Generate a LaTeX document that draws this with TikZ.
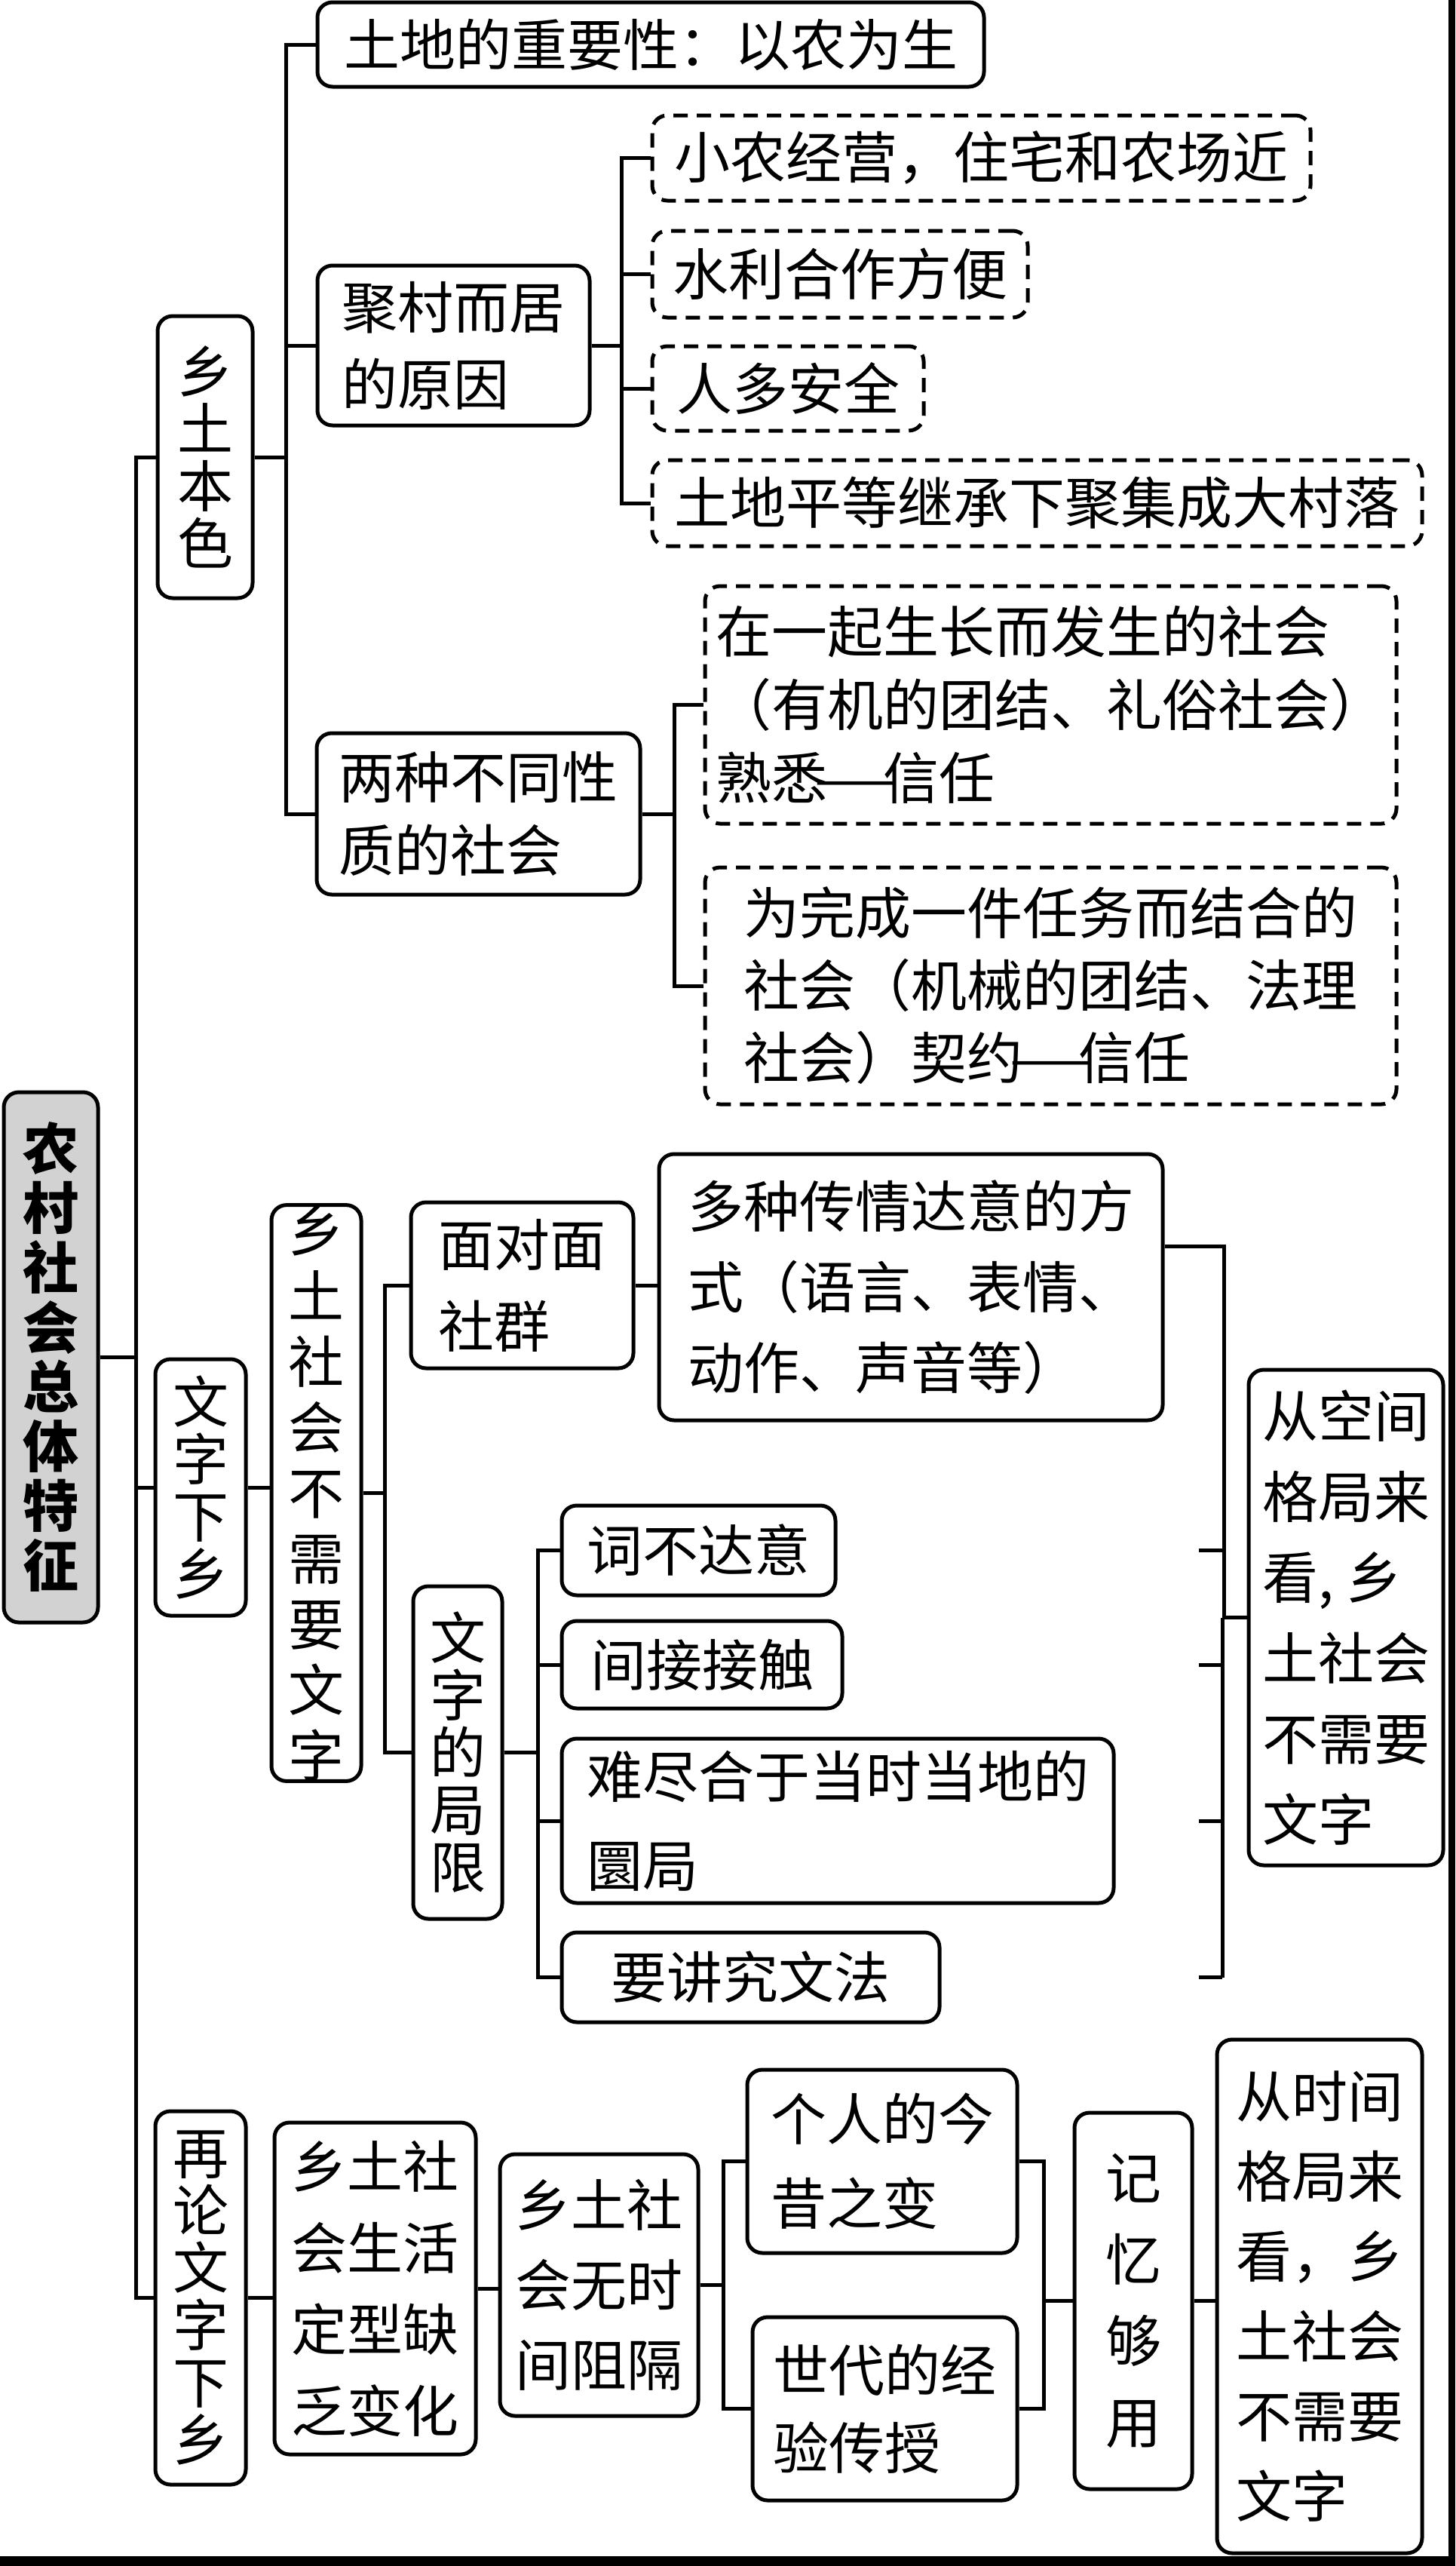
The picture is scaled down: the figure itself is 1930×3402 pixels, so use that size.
\documentclass[tikz,border=0pt]{standalone}
\usepackage{fontspec}
\usepackage{graphicx}
\newfontfamily\cjk{Noto Sans CJK SC}
\usepackage{tikz}
\newcommand\longdash{\makebox[1em][c]{\scalebox{1.7}[1]{—}}}

\begin{document}
\begin{tikzpicture}[x=1pt, y=-1pt, line width=5pt,
    box/.style={draw, rounded corners=20pt, inner sep=0pt, align=left,
      font=\cjk\fontsize{74}{106}\selectfont},
    sz/.style 2 args={minimum width=#1pt, minimum height=#2pt},
    lsp/.style={font=\cjk\fontsize{74}{#1}\selectfont},
    dbox/.style={box, dash pattern=on 19pt off 12pt},
    stack/.style={box, align=center, font=\cjk\fontsize{74}{76}\selectfont},
    root/.style={stack, fill=gray!35,
      font=\cjk\bfseries\fontsize{74}{79}\selectfont},
    elbow/.style={to path={-- ++(#1,0) |- (\tikztotarget)}}]
  \useasboundingbox (0,0) rectangle (1930,3402);

  % root
  \node[root, sz={125}{703}] (root) at (67.5,1799.5) {农\\村\\社\\会\\总\\体\\特\\征};

  % 乡土本色
  \node[stack, sz={126}{374}] (xt) at (272,606) {乡\\土\\本\\色};
  \node[box, sz={884}{112}] (td) at (863,59) {土地的重要性：以农为生};
  \node[box, sz={361}{212}, lsp=102] (jc) at (601.5,458) {聚村而居\\的原因};
  \node[dbox, sz={873}{113}] (jc1) at (1301.5,209.5) {小农经营，住宅和农场近};
  \node[dbox, sz={498}{115}] (jc2) at (1114,363.5) {水利合作方便};
  \node[dbox, sz={360}{112}] (jc3) at (1045,515) {人多安全};
  \node[dbox, sz={1021}{114}] (jc4) at (1375.5,667) {土地平等继承下聚集成大村落};
  \node[box, sz={429}{214}, lsp=97] (lz) at (634.5,1079) {两种不同性\\质的社会};
  \node[dbox, sz={917}{315}, lsp=97] (lz1) at (1393.5,934.5)
    {在一起生长而发生的社会\\（有机的团结、礼俗社会）\\熟悉\longdash 信任};
  \node[dbox, sz={917}{314}, lsp=96] (lz2) at (1393.5,1307)
    {为完成一件任务而结合的\\社会（机械的团结、法理\\社会）契约\longdash 信任};

  % 文字下乡
  \node[stack, sz={120}{340}] (wz) at (266,1972) {文\\字\\下\\乡};
  \node[stack, sz={119}{723}, lsp=87] (bx) at (419.5,1979.5) {乡\\土\\社\\会\\不\\需\\要\\文\\字};
  \node[box, sz={295}{220}, lsp=108] (mm) at (692.5,1704) {面对面\\社群};
  \node[box, sz={668}{353}, lsp=107] (dz) at (1208,1706.5)
    {多种传情达意的方\\式（语言、表情、\\动作、声音等）};
  \node[stack, sz={118}{441}] (jx) at (607,2323.5) {文\\字\\的\\局\\限};
  \node[box, sz={363}{119}] (jx1) at (926.5,2055.5) {词不达意};
  \node[box, sz={372}{116}] (jx2) at (931,2207) {间接接触};
  \node[box, sz={732}{218}, lsp=118] (jx3) at (1111,2414) {难尽合于当时当地的\\圜局};
  \node[box, sz={501}{119}] (jx4) at (995.5,2621.5) {要讲究文法};
  \node[box, sz={258}{657}, lsp=107] (kj) at (1785,2144.5)
    {从空间\\格局来\\看, 乡\\土社会\\不需要\\文字};

  % 再论文字下乡
  \node[stack, sz={120}{495}] (zl) at (266,3046.5) {再\\论\\文\\字\\下\\乡};
  \node[box, sz={267}{440}, lsp=108] (sh) at (497.5,3034) {乡土社\\会生活\\定型缺\\乏变化};
  \node[box, sz={263}{347}, lsp=106] (ws) at (794.5,3029.5) {乡土社\\会无时\\间阻隔};
  \node[box, sz={358}{243}, lsp=112] (gr) at (1170,2865.5) {个人的今\\昔之变};
  \node[box, sz={351}{243}, lsp=103] (sd) at (1173.5,3193.5) {世代的经\\验传授};
  \node[stack, sz={156}{499}, lsp=108] (jy) at (1503,3050.5) {记\\忆\\够\\用};
  \node[box, sz={272}{681}, lsp=106] (sj) at (1750,3044.5)
    {从时间\\格局来\\看，乡\\土社会\\不需要\\文字};

  % connectors
  \path (root.east) edge[elbow=48] (xt.west) edge[elbow=48] (wz.west)
    edge[elbow=48] (zl.west);
  \path (xt.east) edge[elbow=42] (td.west) edge[elbow=42] (jc.west)
    edge[elbow=42] (lz.west);
  \path (jc.east) edge[elbow=40] (jc1.west) edge[elbow=40] (jc2.west)
    edge[elbow=40] (jc3.west) edge[elbow=40] (jc4.west);
  \path (lz.east) edge[elbow=43] (lz1.west) edge[elbow=43] (lz2.west);
  \draw (wz.east) -- (wz.east -| bx.west);
  \path (bx.east) edge[elbow=29] (mm.west) edge[elbow=29] (jx.west);
  \draw (mm.east) -- (mm.east -| dz.west);
  \path (jx.east) edge[elbow=45] (jx1.west) edge[elbow=45] (jx2.west)
    edge[elbow=45] (jx3.west) edge[elbow=45] (jx4.west);
  \path ([yshift=54pt]dz.east) edge[elbow=79] (kj.west);
  \coordinate (sl) at (1590,0);
  \coordinate (sr) at (1621,0);
  \foreach \n in {jx1,jx2,jx3,jx4}
    \draw (sl |- \n.east) -- (sr |- \n.east);
  \draw (sr |- kj.west) -- (sr |- jx4.east);
  \draw (zl.east) -- (zl.east -| sh.west);
  \draw (sh.east) -- (sh.east -| ws.west);
  \path (ws.east) edge[elbow=31] (gr.west) edge[elbow=31] (sd.west);
  \path (gr.east) edge[elbow=33] (jy.west)
    (sd.east) edge[elbow=33] (jy.west);
  \draw (jy.east) -- (jy.east -| sj.west);

  % frame edges
  \fill (1921,0) rectangle (1930,3402);
  \fill (0,3389) rectangle (1930,3402);
\end{tikzpicture}
\end{document}
